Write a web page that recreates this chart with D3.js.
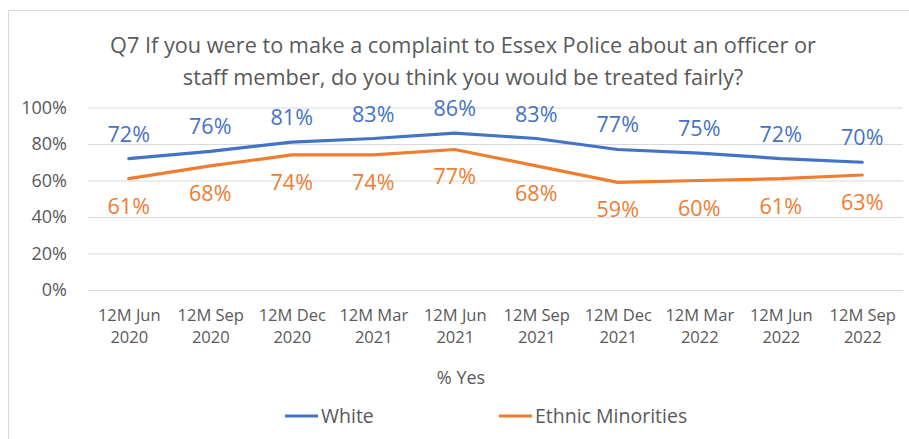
<!DOCTYPE html>
<html>
<head>
<meta charset="utf-8">
<script src="https://cdn.jsdelivr.net/npm/d3@7"></script>
<style>
  body { margin: 0; background: #fff; }
  text { font-family: "Open Sans", sans-serif; }
</style>
</head>
<body>
<div id="chart"></div>
<script>
// data
const periods = ["12M Jun|2020", "12M Sep|2020", "12M Dec|2020", "12M Mar|2021", "12M Jun|2021",
  "12M Sep|2021", "12M Dec|2021", "12M Mar|2022", "12M Jun|2022", "12M Sep|2022"];
const white = [72, 76, 81, 83, 86, 83, 77, 75, 72, 70];
const ethnic = [61, 68, 74, 74, 77, 68, 59, 60, 61, 63];
const yTicks = [0, 20, 40, 60, 80, 100];
const titleLines = ["Q7 If you were to make a complaint to Essex Police about an officer or",
  "staff member, do you think you would be treated fairly?"];

const width = 909;
const height = 439;
const margin = {left: 88, right: 6, top: 107.5, bottom: 149};

const svg = d3.select("#chart")
  .append("svg")
  .attr("width", width)
  .attr("height", height);

// chart border (runs off right/bottom edge like the screenshot)
svg.append("rect")
  .attr("x", 8.5).attr("y", 10.5)
  .attr("width", 930).attr("height", 450)
  .attr("fill", "none")
  .attr("stroke", "#d9d9d9");

const x = d3.scalePoint()
  .domain(periods)
  .range([margin.left, width - margin.right])
  .padding(0.5);

const y = d3.scaleLinear()
  .domain([0, 100])
  .range([height - margin.bottom, margin.top]);

// title
svg.append("text")
  .attr("x", 463)
  .attr("text-anchor", "middle")
  .attr("fill", "#595959")
  .style("font-size", "21.7px")
  .selectAll("tspan")
  .data(titleLines)
  .enter()
  .append("tspan")
  .attr("x", 463)
  .attr("y", (d, i) => 53 + i * 32)
  .text(d => d);

// y axis + gridlines
const yAxis = svg.append("g")
  .attr("transform", `translate(${margin.left},0)`)
  .call(d3.axisLeft(y)
    .tickValues(yTicks)
    .tickSize(-(width - margin.left - margin.right))
    .tickPadding(21)
    .tickFormat(d => d + "%"));
yAxis.select(".domain").remove();
yAxis.selectAll(".tick line").attr("stroke", "#d9d9d9").attr("stroke-width", 1.2);
yAxis.selectAll(".tick text")
  .attr("fill", "#595959")
  .style("font-size", "18px")
  .style("font-family", "'Open Sans', sans-serif");

// x axis labels, two lines each
const xAxis = svg.append("g")
  .attr("transform", `translate(0,${height - margin.bottom})`)
  .call(d3.axisBottom(x).tickSize(0).tickFormat(""));
xAxis.select(".domain").remove();
xAxis.selectAll(".tick text").remove();
xAxis.selectAll(".tick")
  .append("text")
  .attr("text-anchor", "middle")
  .attr("fill", "#595959")
  .style("font-size", "16.5px")
  .selectAll("tspan")
  .data(d => d.split("|"))
  .enter()
  .append("tspan")
  .attr("x", 0)
  .attr("y", (d, i) => 31 + i * 22)
  .text(d => d);

// axis title
svg.append("text")
  .attr("x", 461)
  .attr("y", 384)
  .attr("text-anchor", "middle")
  .attr("fill", "#595959")
  .style("font-size", "18px")
  .text("% Yes");

const series = [
  {name: "White", values: white, color: "#4472c4", dy: -17},
  {name: "Ethnic Minorities", values: ethnic, color: "#ed7d31", dy: 35}
];

const line = d3.line()
  .x((d, i) => x(periods[i]))
  .y(d => y(d));

series.forEach(s => {
  svg.append("path")
    .datum(s.values)
    .attr("d", line)
    .attr("fill", "none")
    .attr("stroke", s.color)
    .attr("stroke-width", 3.2)
    .attr("stroke-linejoin", "round")
    .attr("stroke-linecap", "round");

  svg.append("g")
    .selectAll("text")
    .data(s.values)
    .enter()
    .append("text")
    .attr("x", (d, i) => x(periods[i]))
    .attr("y", d => y(d) + s.dy)
    .attr("text-anchor", "middle")
    .attr("fill", s.color)
    .style("font-size", "21.5px")
    .text(d => d + "%");
});

// legend
const legendItems = [
  {name: "White", color: "#4472c4", x: 285},
  {name: "Ethnic Minorities", color: "#ed7d31", x: 499}
];
const legend = svg.append("g");
legendItems.forEach(l => {
  legend.append("line")
    .attr("x1", l.x).attr("x2", l.x + 33)
    .attr("y1", 416).attr("y2", 416)
    .attr("stroke", l.color)
    .attr("stroke-width", 3.2);
  legend.append("text")
    .attr("x", l.x + 36)
    .attr("y", 423)
    .attr("fill", "#595959")
    .style("font-size", "19.5px")
    .text(l.name);
});
</script>
</body>
</html>
